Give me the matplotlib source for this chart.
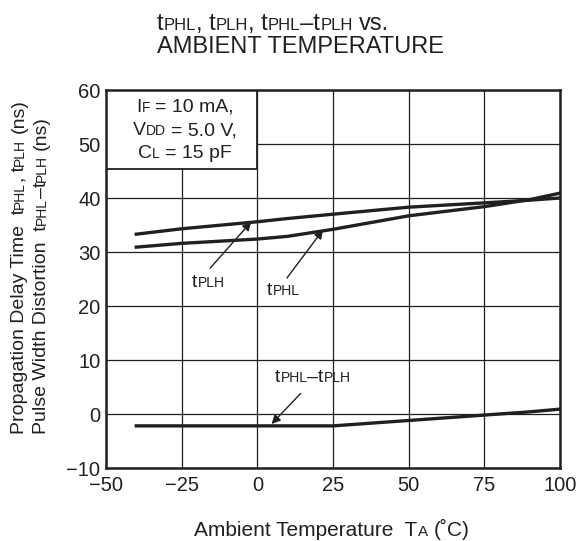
import matplotlib
matplotlib.use('Agg')
import matplotlib.pyplot as plt
from matplotlib.patches import Rectangle

# values
temps = [-40, -25, 0, 10, 25, 50, 75, 90, 100]
t_plh = [33.3, 34.3, 35.6, 36.2, 37.0, 38.3, 39.1, 39.6, 40.0]
t_phl = [30.9, 31.6, 32.4, 32.9, 34.2, 36.7, 38.4, 39.7, 40.9]
t_diff = [-2.2, -2.2, -2.2, -2.2, -2.2, -1.2, -0.2, 0.4, 0.9]

x_ticks = [-50, -25, 0, 25, 50, 75, 100]
y_ticks = [-10, 0, 10, 20, 30, 40, 50, 60]

INK = '#231f20'
W, H = 579, 541

plt.rcParams['font.family'] = ['Liberation Sans', 'DejaVu Sans']

fig = plt.figure(figsize=(W / 100, H / 100), dpi=100)
ax = fig.add_axes([106 / W, 1 - 468 / H, 454 / W, 378 / H])


def rich(x, y, runs, rotation=0, ha='left'):
    # runs of (text, size); x, y in pixels from the top left of the figure
    renderer = fig.canvas.get_renderer()
    texts = []
    adv = []
    for s, size in runs:
        lead = len(s) - len(s.lstrip(' '))
        trail = len(s) - len(s.rstrip(' '))
        sp = 0.278 * size * 100 / 72
        t = fig.text(0, 0, s.strip(' '), fontsize=size, color=INK, rotation=rotation,
                     rotation_mode='anchor', ha='left', va='baseline')
        bb = t.get_window_extent(renderer)
        w = bb.height if rotation else bb.width
        texts.append((t, lead * sp))
        adv.append(lead * sp + w + trail * sp)
    total = sum(adv)
    pos = 0.0
    if ha == 'center':
        pos = -total / 2
    for (t, lead), a in zip(texts, adv):
        if rotation:
            t.set_position((x / W, 1 - (y - pos - lead) / H))
        else:
            t.set_position(((x + pos + lead) / W, 1 - y / H))
        pos += a


ax.set_xlim(-50, 100)
ax.set_ylim(-10, 60)
ax.set_xticks(x_ticks)
ax.set_yticks(y_ticks)
ax.tick_params(length=0, labelsize=14.5, colors=INK)
ax.tick_params(axis='x', pad=6)
ax.tick_params(axis='y', pad=4)
ax.grid(True, color=INK, lw=0.9)
ax.set_axisbelow(True)
for sp in ax.spines.values():
    sp.set_linewidth(1.8)
    sp.set_color(INK)

ax.plot(temps, t_plh, color=INK, lw=2.4, zorder=3)
ax.plot(temps, t_phl, color=INK, lw=2.4, zorder=3)
ax.plot(temps, t_diff, color=INK, lw=2.4, zorder=3)

# conditions box in the top left corner
ax.add_patch(Rectangle((-50, 45.4), 50, 14.6, facecolor='white', edgecolor=INK,
                       lw=1.3, zorder=2))

arrow = dict(arrowstyle='-|>', color=INK, lw=1.0, mutation_scale=13, shrinkA=0, shrinkB=0)
ax.annotate('', xy=(-2, 35.6), xytext=(-15.6, 27.0), arrowprops=arrow, zorder=4)
ax.annotate('', xy=(21.7, 34.1), xytext=(9.8, 25.2), arrowprops=arrow, zorder=4)
ax.annotate('', xy=(4.7, -1.85), xytext=(14.3, 3.8), arrowprops=arrow, zorder=4)

fig.canvas.draw()

# title
rich(157, 30, [('t', 17), ('PHL', 12), (', t', 17), ('PLH', 12), (', t', 17), ('PHL', 12),
               ('–t', 17), ('PLH', 12), (' vs.', 17)])
rich(157, 53, [('AMBIENT TEMPERATURE', 17)])

# box text
rich(185, 112, [('I', 14), ('F', 10), (' = 10 mA,', 14)], ha='center')
rich(185, 135, [('V', 14), ('DD', 10), (' = 5.0 V,', 14)], ha='center')
rich(185, 158, [('C', 14), ('L', 10), (' = 15 pF', 14)], ha='center')

# curve labels
rich(192, 287, [('t', 14), ('PLH', 10)])
rich(267, 295, [('t', 14), ('PHL', 10)])
rich(275, 382, [('t', 14), ('PHL', 10), ('–t', 14), ('PLH', 10)])

# axis titles
rich(332, 536, [('Ambient Temperature  T', 15), ('A', 11), (' (˚C)', 15)], ha='center')
rich(24, 434, [('Propagation Delay Time  t', 14), ('PHL', 10), (', t', 14), ('PLH', 10),
               (' (ns)', 14)], rotation=90)
rich(46, 434, [('Pulse Width Distortion  t', 14), ('PHL', 10), ('–t', 14), ('PLH', 10),
               (' (ns)', 14)], rotation=90)

fig.savefig('out.png', dpi=100)
